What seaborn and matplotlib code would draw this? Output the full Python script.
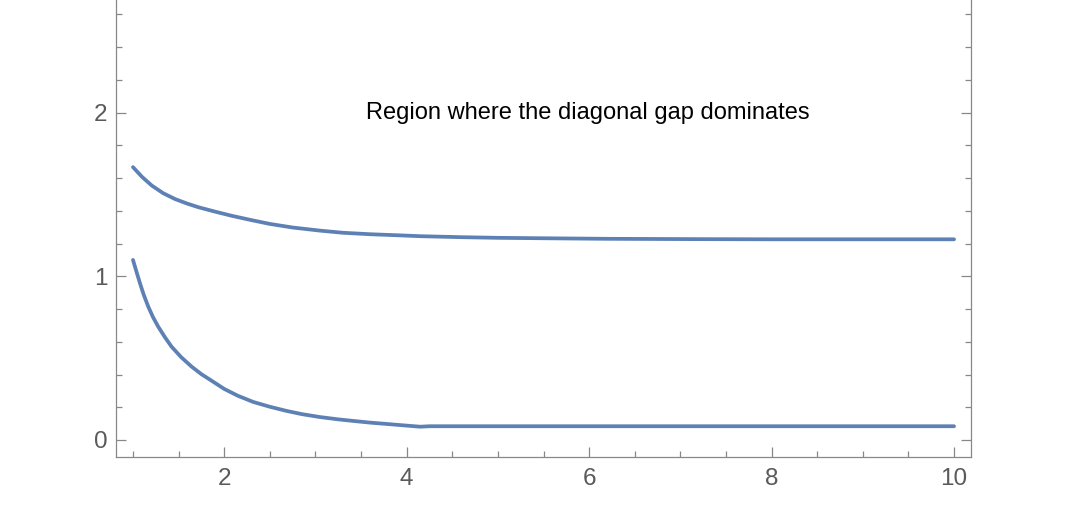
import pandas as pd
import numpy as np
import matplotlib
matplotlib.use("Agg")
import matplotlib.pyplot as plt
import seaborn as sns
from matplotlib.ticker import MultipleLocator

# curve values
upper_x = [1.0, 1.1, 1.205, 1.33, 1.461, 1.59, 1.717, 1.9, 2.08, 2.3, 2.5, 2.75, 3.05, 3.3, 3.6, 3.93, 4.15,
           4.6, 5.0, 5.57, 6.2, 7.22, 8.0, 9.0, 10.0]
upper_y = [1.667, 1.607, 1.555, 1.508, 1.472, 1.445, 1.422, 1.395, 1.370, 1.343, 1.320, 1.298, 1.279, 1.266,
           1.257, 1.250, 1.245, 1.239, 1.235, 1.232, 1.229, 1.227, 1.226, 1.226, 1.226]

lower_x = [1.0, 1.04, 1.077, 1.12, 1.168, 1.22, 1.277, 1.35, 1.423, 1.53, 1.643, 1.75, 1.862, 2.0, 2.15, 2.32,
           2.5, 2.68, 2.85, 3.05, 3.25, 3.42, 3.6, 3.78, 3.95, 4.15, 4.25, 10.0]
lower_y = [1.100, 1.025, 0.957, 0.884, 0.814, 0.750, 0.692, 0.628, 0.570, 0.505, 0.448, 0.402, 0.362, 0.312,
           0.270, 0.232, 0.203, 0.178, 0.158, 0.140, 0.126, 0.116, 0.106, 0.098, 0.090, 0.081, 0.084, 0.084]

x_ticks = [2, 4, 6, 8, 10]
y_ticks = [0, 1, 2]
label_text = "Region where the diagonal gap dominates"

df = pd.concat([
    pd.DataFrame({"x": upper_x, "y": upper_y, "curve": "upper"}),
    pd.DataFrame({"x": lower_x, "y": lower_y, "curve": "lower"}),
])

sns.set_style("ticks")
plt.rcParams['font.family'] = ['Liberation Sans', 'DejaVu Sans']

fig = plt.figure(figsize=(10.84, 5.21), dpi=100)
ax = fig.add_axes([116 / 1084, 1 - 457 / 521, (971 - 116) / 1084, 457 / 521])

line_col = "#5E81B5"
sns.lineplot(data=df, x="x", y="y", units="curve", estimator=None, color=line_col,
             linewidth=2.7, ax=ax, legend=False)

ax.set_xlim(0.814, 10.186)
ax.set_ylim(-0.104, 2.688)
ax.set_xticks(x_ticks)
ax.set_yticks(y_ticks)
ax.xaxis.set_minor_locator(MultipleLocator(0.5))
ax.yaxis.set_minor_locator(MultipleLocator(0.2))
ax.set_xlabel("")
ax.set_ylabel("")

ax.text(5.99, 2.0, label_text, ha="center", va="center", fontsize=17, color="black")

gray = "#888888"
for side in ["left", "bottom", "right"]:
    ax.spines[side].set_color(gray)
    ax.spines[side].set_linewidth(0.9)
ax.spines["top"].set_visible(False)

ax.tick_params(which="both", direction="in", color=gray, width=0.9, labelsize=17.5,
               labelcolor="#5a5a5a", right=True, top=False)
ax.tick_params(which="major", length=7.5)
ax.tick_params(which="minor", length=4.5)
ax.tick_params(axis="x", pad=8)
ax.tick_params(axis="y", pad=6)

fig.savefig("out.png", dpi=100)
